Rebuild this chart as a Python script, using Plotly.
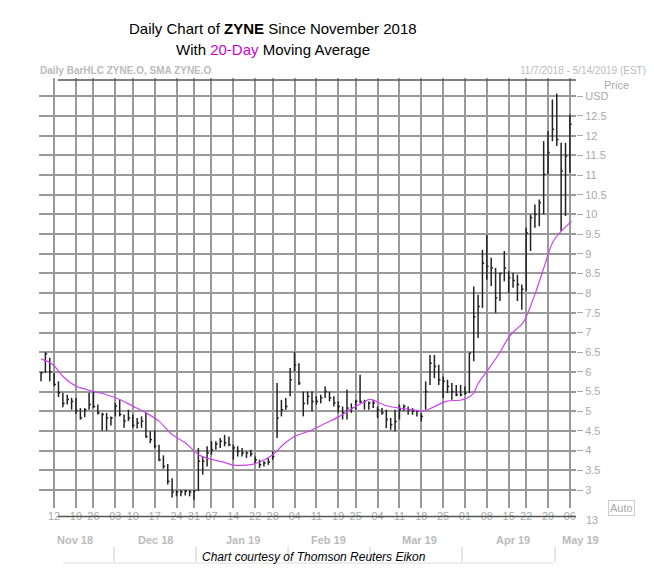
import plotly.graph_objects as go

highs = [6.0,6.5,6.36,5.97,5.76,5.47,5.42,5.34,5.34,5.08,5.08,5.47,5.5,5.17,4.96,4.96,4.87,5.21,5.3,4.92,
         5.04,4.92,4.83,4.87,4.96,4.49,4.51,4.15,3.88,3.66,3.3,3.0,3.0,3.0,3.0,3.0,4.07,3.85,4.11,4.24,
         4.24,4.32,4.4,4.36,4.15,4.11,4.07,3.98,4.02,3.85,3.77,3.73,3.81,3.98,5.72,5.29,5.34,6.1,6.5,6.22,
         5.5,5.5,5.5,5.38,5.42,5.63,5.5,5.38,5.25,5.12,5.55,5.2,5.29,5.93,5.29,5.25,5.29,5.12,5.08,5.04,
         4.83,5.04,5.17,5.17,5.12,5.08,5.04,4.95,5.76,6.43,6.43,6.18,5.88,5.8,5.72,5.67,5.67,5.63,6.48,8.17,
         7.96,9.1,9.48,8.9,8.64,8.52,9.07,8.56,8.52,8.47,8.22,9.66,10.0,10.25,10.38,11.86,12.12,12.92,13.07,11.82,
         11.82,12.54]
lows = [5.76,5.97,5.76,5.64,5.36,5.1,5.17,5.04,4.93,4.79,4.85,5.04,5.08,4.92,4.51,4.51,4.64,4.87,4.87,4.58,
        4.75,4.58,4.56,4.58,4.32,4.19,4.07,3.73,3.54,3.14,2.81,2.84,2.84,2.86,2.84,2.75,2.97,3.39,3.6,3.9,
        4.02,4.07,4.11,4.11,3.77,3.85,3.85,3.81,3.85,3.68,3.56,3.6,3.64,3.77,4.32,4.87,5.04,5.38,6.01,5.67,
        4.87,5.17,5.0,5.17,5.2,5.34,5.25,5.12,4.96,4.79,4.79,4.96,5.04,5.21,5.04,5.04,5.08,4.83,4.91,4.57,
        4.53,4.49,4.79,5.0,4.91,4.91,4.87,4.74,5.04,5.67,5.84,5.67,5.34,5.46,5.29,5.38,5.38,5.42,5.46,6.27,
        6.86,7.62,8.34,8.18,7.5,7.8,8.3,8.0,8.14,7.8,7.58,8.05,9.07,9.66,9.7,10.0,11.02,11.86,11.74,9.58,
        9.96,11.06]
closes = [5.98,6.46,6.0,5.68,5.47,5.2,5.3,5.25,5.02,4.83,5.04,5.17,5.12,4.96,4.92,4.83,4.83,5.13,4.92,4.75,
          4.83,4.64,4.7,4.75,4.36,4.28,4.11,3.77,3.6,3.22,2.95,2.95,2.95,2.97,2.95,2.98,3.73,3.73,3.94,4.02,
          4.17,4.24,4.2,4.15,4.07,3.98,3.94,3.94,3.92,3.77,3.64,3.69,3.71,3.85,4.83,5.04,5.12,5.8,6.18,5.72,
          5.2,5.38,5.25,5.25,5.34,5.5,5.34,5.21,5.12,4.96,5.08,5.08,5.25,5.25,5.25,5.21,5.21,5.04,4.96,4.79,
          4.66,4.74,5.04,5.12,5.04,5.0,5.0,4.87,5.5,6.22,6.14,5.8,5.76,5.63,5.5,5.42,5.42,5.46,6.48,7.4,
          7.66,8.76,8.68,8.64,7.88,8.5,8.64,8.39,8.32,8.22,8.1,9.53,9.92,10.0,10.3,11.02,11.57,12.16,11.9,11.1,
          11.48,12.29]

sma_idx = [0,2.7,5,8,11.9,15,18,21,24,27,30,33,36.3,39.3,42.3,43.9,46.9,50,53.1,55.4,58,61.4,65.2,68.3,71.3,
           73.6,75.2,76.7,79,82.1,85.1,87.4,89.7,92.7,96.6,98.9,100,102.3,104.9,106.9,108.4,110.3,113,115.3,117.2,119.1,121.4]
sma_val = [6.33,6.19,5.89,5.64,5.51,5.42,5.3,5.13,4.96,4.75,4.41,4.2,3.88,3.77,3.69,3.63,3.63,3.71,3.9,4.15,4.36,
           4.5,4.7,4.87,5.08,5.22,5.3,5.25,5.14,5.08,5.04,5.0,5.1,5.25,5.3,5.45,5.7,6.06,6.48,6.86,7.05,7.25,7.97,8.73,9.32,9.58,9.83]

tick_idx = [3,8,12,17,21,26,31,35,39,44,49,53,58,63,68,72,77,82,87,92,97,102,107,111,116,121]
tick_txt = ["12","19","26","03","10","17","24","31","07","14","22","28","04","11","19","25",
            "04","11","18","25","01","08","15","22","29","06"]
months = ["Nov 18","Dec 18","Jan 19","Feb 19","Mar 19","Apr 19","May 19"]
month_px = [67,147,235,320,411,505,572]
sep_px = [106,188,280,362,454,547]
price_ticks = [3,3.5,4,4.5,5,5.5,6,6.5,7,7.5,8,8.5,9,9.5,10,10.5,11,11.5,12,12.5,13]

bx, by = [], []
for i, (h, l, c) in enumerate(zip(highs, lows, closes)):
    bx += [i, i, None, i, i + 0.4, None]
    by += [l, h, None, c, c, None]

fig = go.Figure()
fig.add_trace(go.Scatter(x=bx, y=by, mode="lines", line=dict(color="#222222", width=1.5),
                         hoverinfo="skip", showlegend=False))
fig.add_trace(go.Scatter(x=sma_idx, y=sma_val, mode="lines", line=dict(color="#cc44ee", width=1.2),
                         line_shape="spline", showlegend=False))

gray = "#aaaaaa"
fig.update_layout(
    width=654, height=572, margin=dict(l=31, r=86, t=70, b=72),
    paper_bgcolor="white", plot_bgcolor="white",
    font=dict(family="Liberation Sans, Arial", size=11, color=gray),
    xaxis=dict(range=[-0.46, 122.4], tickvals=tick_idx, ticktext=tick_txt, showgrid=True,
               gridcolor="#999999", gridwidth=1.5, zeroline=False, ticks="", showline=False,
               tickfont=dict(size=11, color=gray)),
    yaxis=dict(range=[2.543, 13.465], side="right", tickvals=price_ticks,
               ticktext=[("USD" if v == 13 else ("%g" % v)) for v in price_ticks],
               showgrid=True, gridcolor="#999999", gridwidth=1.5, zeroline=False,
               ticks="outside", ticklen=6, tickcolor=gray, tickfont=dict(size=11, color=gray)),
)

H = 572 - 70 - 72
W = 654 - 31 - 86
shapes = [
    dict(type="line", xref="paper", yref="paper", x0=0.035, x1=1.0, y0=1 - 2 / H, y1=1 - 2 / H,
         line=dict(color="#555555", width=1.5)),
    dict(type="line", xref="paper", yref="paper", x0=0.035, x1=1.0, y0=-0.02, y1=-0.02,
         line=dict(color="#555555", width=1.5)),
]
for s in sep_px:
    shapes.append(dict(type="line", xref="paper", yref="paper", x0=(s - 31) / W, x1=(s - 31) / W,
                       y0=-0.125, y1=-0.09, line=dict(color="#cccccc", width=1)))
shapes.append(dict(type="line", xref="paper", yref="paper", x0=(55 - 31) / W, x1=(545 - 31) / W,
                   y0=-0.128, y1=-0.128, line=dict(color="#dddddd", width=1)))
fig.update_layout(shapes=shapes)

ann = [
    dict(text="Daily Chart of <b>ZYNE</b> Since November 2018", x=265, y=20, size=15, color="black"),
    dict(text="With <span style='color:#cc00cc'>20-Day</span> Moving Average", x=265, y=42, size=15, color="black"),
    dict(text="<b>Daily BarHLC ZYNE.O, SMA ZYNE.O</b>", x=30, y=62, size=10, color="#bbbbbb", xanchor="left"),
    dict(text="11/7/2018 - 5/14/2019 (EST)", x=640, y=62, size=10, color="#bbbbbb", xanchor="right"),
    dict(text="Price", x=594, y=77, size=11, color=gray, xanchor="left"),
    dict(text="13", x=584, y=512, size=11, color=gray),
    dict(text="<i>Chart courtesy of Thomson Reuters Eikon</i>", x=306, y=549, size=12, color="black"),
]
for m, px in zip(months, month_px):
    ann.append(dict(text="<b>" + m + "</b>", x=px, y=532, size=11, color="#bbbbbb"))
annotations = []
for a in ann:
    annotations.append(dict(text=a["text"], xref="paper", yref="paper",
                            x=(a["x"] - 31) / W, y=1 - (a["y"] - 70) / H,
                            xanchor=a.get("xanchor", "center"), yanchor="middle", showarrow=False,
                            font=dict(size=a["size"], color=a["color"], family="Liberation Sans, Arial")))
annotations.append(dict(text="Auto", xref="paper", yref="paper", x=(613 - 31) / W,
                        y=1 - (500 - 70) / H, xanchor="center", yanchor="middle", showarrow=False,
                        bordercolor="#cccccc", borderwidth=1, borderpad=1,
                        font=dict(size=11, color=gray, family="Liberation Sans, Arial")))
fig.update_layout(annotations=annotations)
fig.write_html("out.html")
